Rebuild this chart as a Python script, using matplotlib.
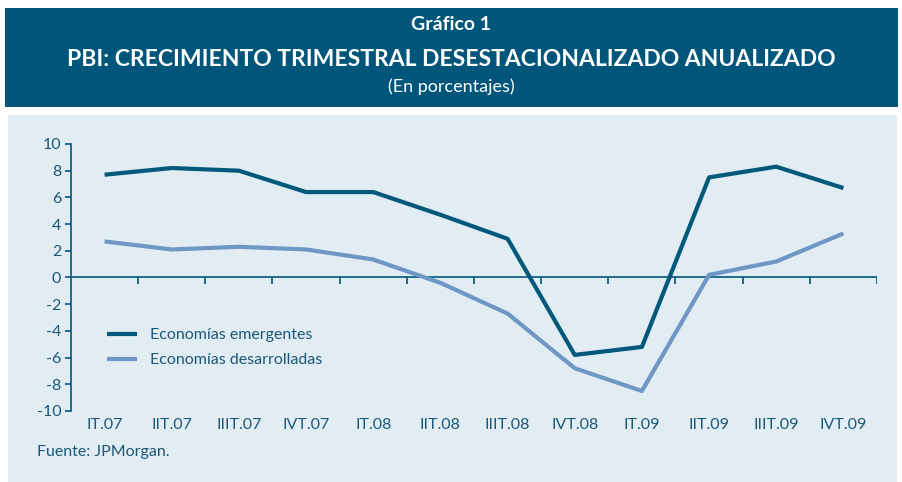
import matplotlib.pyplot as plt
import numpy as np
from matplotlib.patches import Rectangle

plt.rcParams["font.family"] = ["Lato", "DejaVu Sans"]

quarters = ["IT.07", "IIT.07", "IIIT.07", "IVT.07", "IT.08", "IIT.08",
            "IIIT.08", "IVT.08", "IT.09", "IIT.09", "IIIT.09", "IVT.09"]
emergentes = [7.7, 8.2, 8.0, 6.4, 6.4, 4.7, 2.9, -5.8, -5.2, 7.5, 8.3, 6.7]
desarrolladas = [2.7, 2.1, 2.3, 2.1, 1.35, -0.4, -2.7, -6.8, -8.5, 0.2, 1.2, 3.3]
yticks = [-10, -8, -6, -4, -2, 0, 2, 4, 6, 8, 10]

W, H = 903, 482
dark = "#00587a"
light = "#6f97c5"
txt = "#1b5878"
bg = "#e1ecf3"

fig = plt.figure(figsize=(W / 100, H / 100), dpi=100)
fig.patch.set_facecolor("white")

# header band and plot background
fig.patches.append(Rectangle((5 / W, 1 - 107 / H), 893 / W, 99 / H, zorder=-5,
                             transform=fig.transFigure, facecolor="#00557a", edgecolor="none"))
fig.patches.append(Rectangle((8 / W, 0), 889 / W, 1 - 115 / H, zorder=-5,
                             transform=fig.transFigure, facecolor=bg, edgecolor="none"))

fig.text(0.5, 1 - 24 / H, "Gráfico 1", ha="center", va="center", color="white",
         fontsize=14, fontweight="bold")
fig.text(0.5, 1 - 60 / H, "PBI: CRECIMIENTO TRIMESTRAL DESESTACIONALIZADO ANUALIZADO",
         ha="center", va="center", color="white", fontsize=16.5, fontweight="bold")
fig.text(0.5, 1 - 87 / H, "(En porcentajes)", ha="center", va="center", color="white",
         fontsize=13)

ax = fig.add_axes([71 / W, 1 - 411 / H, 806 / W, 267 / H])
ax.set_facecolor("none")
x = np.arange(len(quarters)) + 0.5
ax.plot(x, desarrolladas, color=light, linewidth=3, solid_capstyle="butt",
        label="Economías desarrolladas", zorder=3)
ax.plot(x, emergentes, color=dark, linewidth=3, solid_capstyle="butt",
        label="Economías emergentes", zorder=4)

ax.set_xlim(0, len(quarters))
ax.set_ylim(-10, 10)
for s in ["top", "right", "bottom"]:
    ax.spines[s].set_visible(False)
ax.spines["left"].set_color(dark)
ax.spines["left"].set_linewidth(1.2)
ax.axhline(0, color=dark, linewidth=1.2, zorder=2)
ax.vlines(np.arange(1, len(quarters) + 1), -0.45, 0, color=dark, linewidth=1.2)

ax.set_yticks(yticks)
ax.set_yticklabels([str(v) for v in yticks], color=txt, fontsize=11.5)
ax.tick_params(axis="y", length=4, width=1.2, color=dark, pad=3)
ax.set_xticks(x)
ax.set_xticklabels(quarters, color=txt, fontsize=11.5)
ax.tick_params(axis="x", length=0, pad=5)

handles, labels = ax.get_legend_handles_labels()
leg = ax.legend(handles[::-1], labels[::-1], loc="upper left", bbox_to_anchor=(0.027, 0.364),
                frameon=False, fontsize=11.5, handlelength=1.9, handletextpad=0.8,
                labelspacing=0.68, labelcolor=txt)

fig.text(37 / W, 1 - 452 / H, "Fuente: JPMorgan.", ha="left", va="center", color=txt,
         fontsize=11.5)

fig.savefig("out.png", dpi=100)
